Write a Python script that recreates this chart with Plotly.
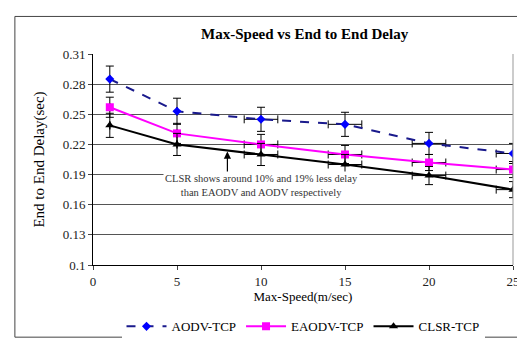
import plotly.graph_objects as go

speed = [1, 5, 10, 15, 20, 25]
aodv = [0.285, 0.253, 0.245, 0.240, 0.221, 0.211]
eaodv = [0.257, 0.231, 0.220, 0.210, 0.202, 0.195]
clsr = [0.239, 0.220, 0.210, 0.200, 0.189, 0.175]
aodv_err = [0.013, 0.013, 0.012, 0.012, 0.011, 0.010]
eaodv_err = [0.010, 0.010, 0.010, 0.009, 0.008, 0.008]
clsr_err = [0.012, 0.011, 0.011, 0.010, 0.009, 0.008]
x_err = [0, 0, 1, 1, 1, 1]
y_ticks = [0.1, 0.13, 0.16, 0.19, 0.22, 0.25, 0.28, 0.31]
y_labels = ["0.1", "0.13", "0.16", "0.19", "0.22", "0.25", "0.28", "0.31"]
x_ticks = [0, 5, 10, 15, 20, 25]

font = "Liberation Serif, Times New Roman, serif"

def eb(err):
    return dict(type="data", array=err, color="black", thickness=1, width=4)

fig = go.Figure()
fig.add_trace(go.Scatter(x=speed, y=aodv, name="AODV-TCP", mode="lines+markers",
                         line=dict(color="#1a1a8c", dash="dash", width=2),
                         marker=dict(symbol="diamond", color="#0000ff", size=7),
                         error_y=eb(aodv_err), error_x=eb(x_err)))
fig.add_trace(go.Scatter(x=speed, y=eaodv, name="EAODV-TCP", mode="lines+markers",
                         line=dict(color="#ff00ff", width=2),
                         marker=dict(symbol="square", color="#ff00ff", size=8),
                         error_y=eb(eaodv_err), error_x=eb(x_err)))
fig.add_trace(go.Scatter(x=speed, y=clsr, name="CLSR-TCP", mode="lines+markers",
                         line=dict(color="black", width=2),
                         marker=dict(symbol="triangle-up", color="black", size=8),
                         error_y=eb(clsr_err), error_x=eb(x_err)))

fig.add_annotation(x=8, y=0.213, ax=8, ay=0.187, xref="x", yref="y", axref="x", ayref="y",
                   text="", showarrow=True, arrowhead=2, arrowsize=1.2, arrowwidth=1.2,
                   arrowcolor="black")
fig.add_annotation(x=10, y=0.179, xref="x", yref="y", showarrow=False,
                   text="CLSR shows around 10% and 19% less delay<br>than EAODV and AODV respectively",
                   font=dict(family=font, size=10.5, color="#333333"), align="center",
                   bgcolor="white")

fig.add_shape(type="rect", xref="paper", yref="paper", x0=-0.186, x1=1.031, y0=-0.342, y1=1.178,
              line=dict(color="#444444", width=1), layer="below")

fig.update_layout(
    width=525, height=345,
    margin=dict(l=85, r=20, t=46, b=80),
    paper_bgcolor="white", plot_bgcolor="white",
    font=dict(family=font, size=13, color="black"),
    title=dict(text="<b>Max-Speed vs End to End Delay</b>", x=0.565, xanchor="center",
               y=0.925, yanchor="middle", font=dict(family=font, size=15)),
    showlegend=True,
    legend=dict(orientation="h", x=0.5, xanchor="center", y=-0.22, yanchor="top",
                font=dict(family=font, size=13), itemwidth=40, tracegroupgap=0),
)
fig.update_xaxes(range=[0, 25], tickvals=x_ticks, ticks="outside", ticklen=4,
                 showgrid=False, showline=True, linecolor="black", mirror=False,
                 zeroline=False, tickfont=dict(family=font, size=13, color="#222222"),
                 title=dict(text="Max-Speed(m/sec)", standoff=2,
                 font=dict(family=font, size=13)))
fig.update_yaxes(range=[0.1, 0.31], tickvals=y_ticks, ticktext=y_labels, ticks="outside",
                 ticklen=4, showgrid=True, gridcolor="#555555", gridwidth=1,
                 showline=True, linecolor="black", zeroline=False,
                 tickfont=dict(family=font, size=13, color="#222222"),
                 title=dict(text="End to End Delay(sec)", standoff=14,
                 font=dict(family=font, size=15)))
fig.add_shape(type="line", xref="paper", yref="paper", x0=1, x1=1, y0=0, y1=1,
              line=dict(color="#999999", width=1))

fig.write_html("out.html")
